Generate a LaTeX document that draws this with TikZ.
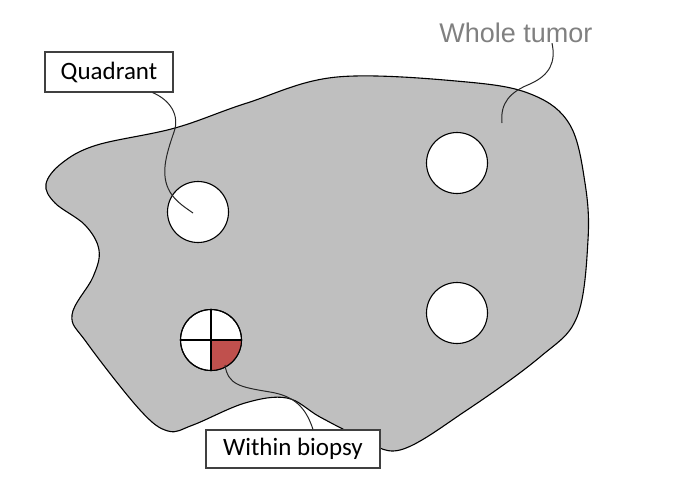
\documentclass[tikz,border=0pt]{standalone}
\usepackage{fontspec}
\setmainfont{Carlito}
\newfontfamily\arialfont{Liberation Sans}
\definecolor{tumorgray}{HTML}{BFBFBF}
\definecolor{biopsyred}{HTML}{C0504D}
\definecolor{labelgray}{HTML}{808080}
\definecolor{boxedge}{HTML}{404040}
\tikzset{
  outline/.style={draw=black, line width=1.1pt},
  hole/.style={circle, draw=black, line width=1.1pt, fill=white, minimum size=61pt, inner sep=0pt},
  labelbox/.style={draw=boxedge, line width=1.1pt, fill=white, inner sep=0pt, font=\fontsize{25}{30}\selectfont},
  leader/.style={draw=black!85, line width=1pt},
}
\begin{document}
\begin{tikzpicture}[x=1pt,y=-1pt]
\useasboundingbox (0,0) rectangle (686,483);
% tumor
\path[outline, fill=tumorgray] plot[smooth cycle, tension=0.6] coordinates {
 (46,184) (62,163) (97,145) (175,128) (247,103) (337,77) (467,82) (533,95) (570,125)
 (585,183) (588,240) (577,317) (540,357) (467,410) (400,450) (360,437)
 (320,417) (287,398) (245,403) (193,425) (168,431) (140,410) (87,343)
 (72,315) (93,277) (99,250) (85,225) (55,203)};
% holes
\node[hole] (q1) at (198,212) {};
\node[hole] (h2) at (457,163) {};
\node[hole] (h3) at (457,313) {};
\node[hole] (bx) at (211,340) {};
\begin{scope}
  \clip (bx.center) circle (30.5pt);
  \fill[biopsyred] (bx.center) rectangle ++(40,40);
\end{scope}
\draw[line width=1.1pt] (bx.north) -- (bx.south);
\draw[line width=1.1pt] (bx.west) -- (bx.east);
\draw[line width=1.1pt] (bx.center) circle (30.5pt);
% labels
\node[labelbox, minimum width=128pt, minimum height=40pt] (qbox) at (109,72) {Quadrant};
\node[labelbox, minimum width=174pt, minimum height=38pt] (wbox) at (293,449) {Within biopsy};
\node[font=\arialfont\fontsize{27}{31}\selectfont, text=labelgray, inner sep=0pt] (wt) at (516,33) {Whole tumor};
% leader ends
\coordinate (qend) at (193,213);
\coordinate (wtend) at (502,123);
\coordinate (bstart) at (225,365);
% leaders
\draw[leader] ([xshift=-21pt]qbox.south east) .. controls (170,100) and (180,115) .. (174,132)
  .. controls (166,155) and (160,175) .. (170,192) .. controls (176,202) and (186,208) .. (qend);
\draw[leader] (wt.south -| 552,0) .. controls (556,62) and (550,75) .. (530,84)
  .. controls (510,92) and (500,103) .. (wtend);
\draw[leader] (bstart) .. controls (228,385) and (240,387) .. (270,392)
  .. controls (295,396) and (306,408) .. (wbox.north -| 313,0);
\end{tikzpicture}
\end{document}
